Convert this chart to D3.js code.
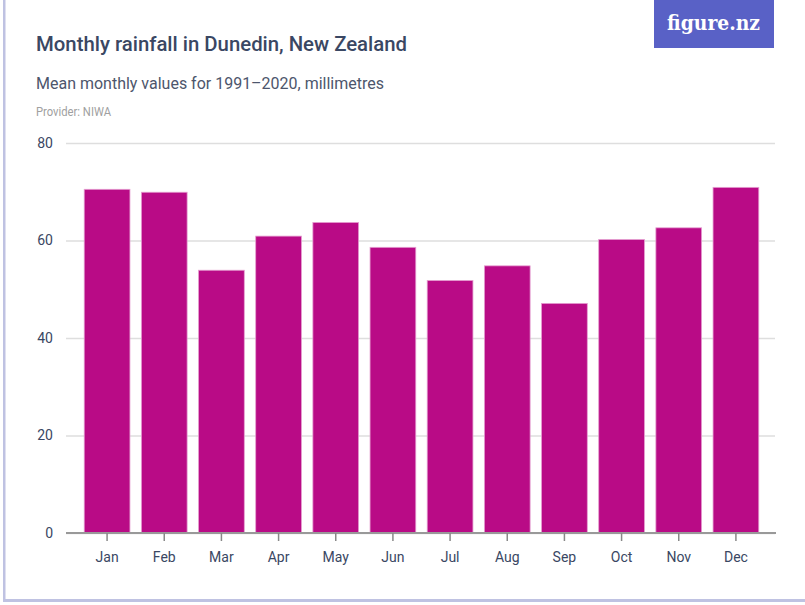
<!DOCTYPE html>
<html>
<head>
<meta charset="utf-8">
<script src="https://cdn.jsdelivr.net/npm/d3@7"></script>
<style>
  html, body { margin: 0; padding: 0; background: #fff; }
  svg { display: block; }
</style>
</head>
<body>
<div id="chart"></div>
<script>
// data
const months = ['Jan', 'Feb', 'Mar', 'Apr', 'May', 'Jun', 'Jul', 'Aug', 'Sep', 'Oct', 'Nov', 'Dec'];
const rainfall = [70.5, 69.9, 53.9, 60.9, 63.7, 58.6, 51.8, 54.8, 47.1, 60.2, 62.6, 70.9];
const yTicks = [0, 20, 40, 60, 80];

const width = 805;
const height = 605;

const svg = d3.select('#chart')
    .append('svg')
    .attr('width', width)
    .attr('height', height);

// card edges
svg.append('rect')
    .attr('x', 3).attr('y', 0)
    .attr('width', 2.5).attr('height', 602)
    .attr('fill', '#bfc2e2');
svg.append('rect')
    .attr('x', 3).attr('y', 599)
    .attr('width', 802).attr('height', 3)
    .attr('fill', '#bfc2e2');

// squeeze text to the width of the original's narrow faces
const fitText = (sel, w) => {
  const len = sel.node().getComputedTextLength();
  if (len > w) sel.attr('textLength', w).attr('lengthAdjust', 'spacingAndGlyphs');
};

// logo
svg.append('rect')
    .attr('x', 654).attr('y', 0)
    .attr('width', 120).attr('height', 48)
    .attr('fill', '#5961c6');
const logo = svg.append('text')
    .attr('x', 667).attr('y', 30)
    .attr('fill', '#fff')
    .style('font-family', '"DejaVu Serif", "Liberation Serif", serif')
    .style('font-size', '21px')
    .style('font-weight', 'bold')
    .text('figure.nz');
fitText(logo, 93);

const title = svg.append('text')
    .attr('x', 36).attr('y', 51)
    .attr('fill', '#3a4763')
    .style('font-family', 'Roboto, "Liberation Sans", sans-serif')
    .style('font-size', '21px')
    .style('font-weight', '500')
    .text('Monthly rainfall in Dunedin, New Zealand');
fitText(title, 371);

const subtitle = svg.append('text')
    .attr('x', 36).attr('y', 89)
    .attr('fill', '#4d566c')
    .style('font-family', 'Roboto, "Liberation Sans", sans-serif')
    .style('font-size', '17px')
    .text('Mean monthly values for 1991–2020, millimetres');
fitText(subtitle, 348);

const provider = svg.append('text')
    .attr('x', 36).attr('y', 116)
    .attr('fill', '#a0a0a0')
    .style('font-family', 'Roboto, "Liberation Sans", sans-serif')
    .style('font-size', '12px')
    .text('Provider: NIWA');
fitText(provider, 75);

// scales
const x = d3.scaleBand()
    .domain(months)
    .range([78.5, 764.5])
    .paddingInner(0.2)
    .paddingOuter(0.1);

const y = d3.scaleLinear()
    .domain([0, 80])
    .range([533, 143]);

// gridlines + y labels
const grid = svg.append('g')
    .attr('transform', 'translate(66,0)')
    .call(d3.axisLeft(y).tickValues(yTicks).tickSize(-709).tickPadding(13));
grid.select('.domain').remove();
grid.selectAll('.tick line')
    .attr('stroke', '#dedede')
    .attr('stroke-width', 1.5)
    .attr('x1', 0);
grid.selectAll('.tick text')
    .attr('fill', '#3a4763')
    .style('font-family', 'Roboto, "Liberation Sans", sans-serif')
    .style('font-size', '14px');

// bars
svg.append('g')
    .selectAll('rect')
    .data(rainfall)
    .join('rect')
    .attr('x', (d, i) => x(months[i]))
    .attr('y', d => y(d))
    .attr('width', x.bandwidth())
    .attr('height', d => y(0) - y(d))
    .attr('fill', '#b90b86')
    .attr('stroke', '#e59ed0')
    .attr('stroke-width', 0.8);

// x axis
const xAxis = svg.append('g')
    .attr('transform', 'translate(0,533)')
    .call(d3.axisBottom(x).tickSize(8).tickPadding(11));
xAxis.select('.domain')
    .attr('d', 'M66,0H776')
    .attr('stroke', '#999')
    .attr('stroke-width', 2);
xAxis.selectAll('.tick line')
    .attr('stroke', '#888')
    .attr('stroke-width', 1.5);
xAxis.selectAll('.tick text')
    .attr('fill', '#3a4763')
    .style('font-family', 'Roboto, "Liberation Sans", sans-serif')
    .style('font-size', '14px');
</script>
</body>
</html>
